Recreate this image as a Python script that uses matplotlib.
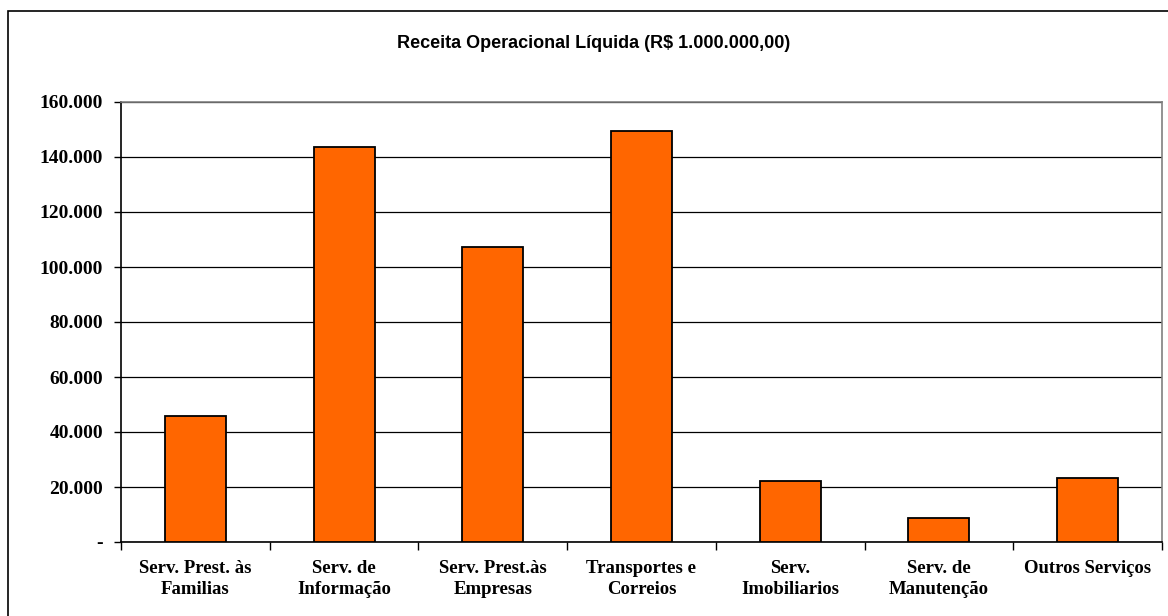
import matplotlib
matplotlib.use("Agg")
import matplotlib.pyplot as plt
from matplotlib.patches import Rectangle
from matplotlib.ticker import FuncFormatter
import numpy as np

categorias = ["Serv. Prest. às\nFamilias", "Serv. de\nInformação", "Serv. Prest.às\nEmpresas",
              "Transportes e\nCorreios", "Serv.\nImobiliarios", "Serv. de\nManutenção",
              "Outros Serviços"]
receita = [45800, 143700, 107300, 149500, 22200, 8700, 23400]
yticks = list(range(0, 160001, 20000))

fig = plt.figure(figsize=(11.68, 6.16), dpi=100)
# moldura externa do gráfico
fig.patches.append(Rectangle((8 / 1168, -0.1), 1.2, 1.1 - 11 / 616,
                             transform=fig.transFigure, fill=False, lw=1.2, ec="black"))
ax = fig.add_axes([121 / 1168, 74 / 616, 1041 / 1168, 440 / 616])

x = np.arange(len(categorias))
ax.bar(x, receita, width=0.41, color="#ff6600", edgecolor="black", lw=1.3, zorder=3)

ax.set_xlim(-0.5, len(categorias) - 0.5)
ax.set_ylim(0, 160000)
ax.set_yticks(yticks)
ax.yaxis.set_major_formatter(FuncFormatter(
    lambda v, p: "-" if v == 0 else f"{int(v):,}".replace(",", ".")))
ax.grid(axis="y", color="black", lw=0.9, zorder=0)

ax.set_xticks(np.arange(-0.5, len(categorias), 1.0))
ax.set_xticklabels([])
ax.set_xticks(x, minor=True)
ax.set_xticklabels(categorias, minor=True, fontfamily="Liberation Serif",
                   fontweight="bold", fontsize=13.5, linespacing=1.32)
ax.tick_params(axis="x", which="minor", length=0, pad=13)
ax.tick_params(axis="x", which="major", length=6, width=1, color="black")
ax.tick_params(axis="y", length=5, width=1, pad=8)
for t in ax.get_yticklabels():
    t.set_fontfamily("Liberation Serif")
    t.set_fontweight("bold")
    t.set_fontsize(14)

for s in ["left", "bottom"]:
    ax.spines[s].set_color("black")
    ax.spines[s].set_linewidth(1.2)
for s in ["top", "right"]:
    ax.spines[s].set_color("#808080")
    ax.spines[s].set_linewidth(1.2)

fig.text(594 / 1168, 1 - 43 / 616, "Receita Operacional Líquida (R$ 1.000.000,00)",
         ha="center", va="center", fontfamily="Liberation Sans", fontweight="bold",
         fontsize=13)

fig.savefig("out.png", dpi=100)
